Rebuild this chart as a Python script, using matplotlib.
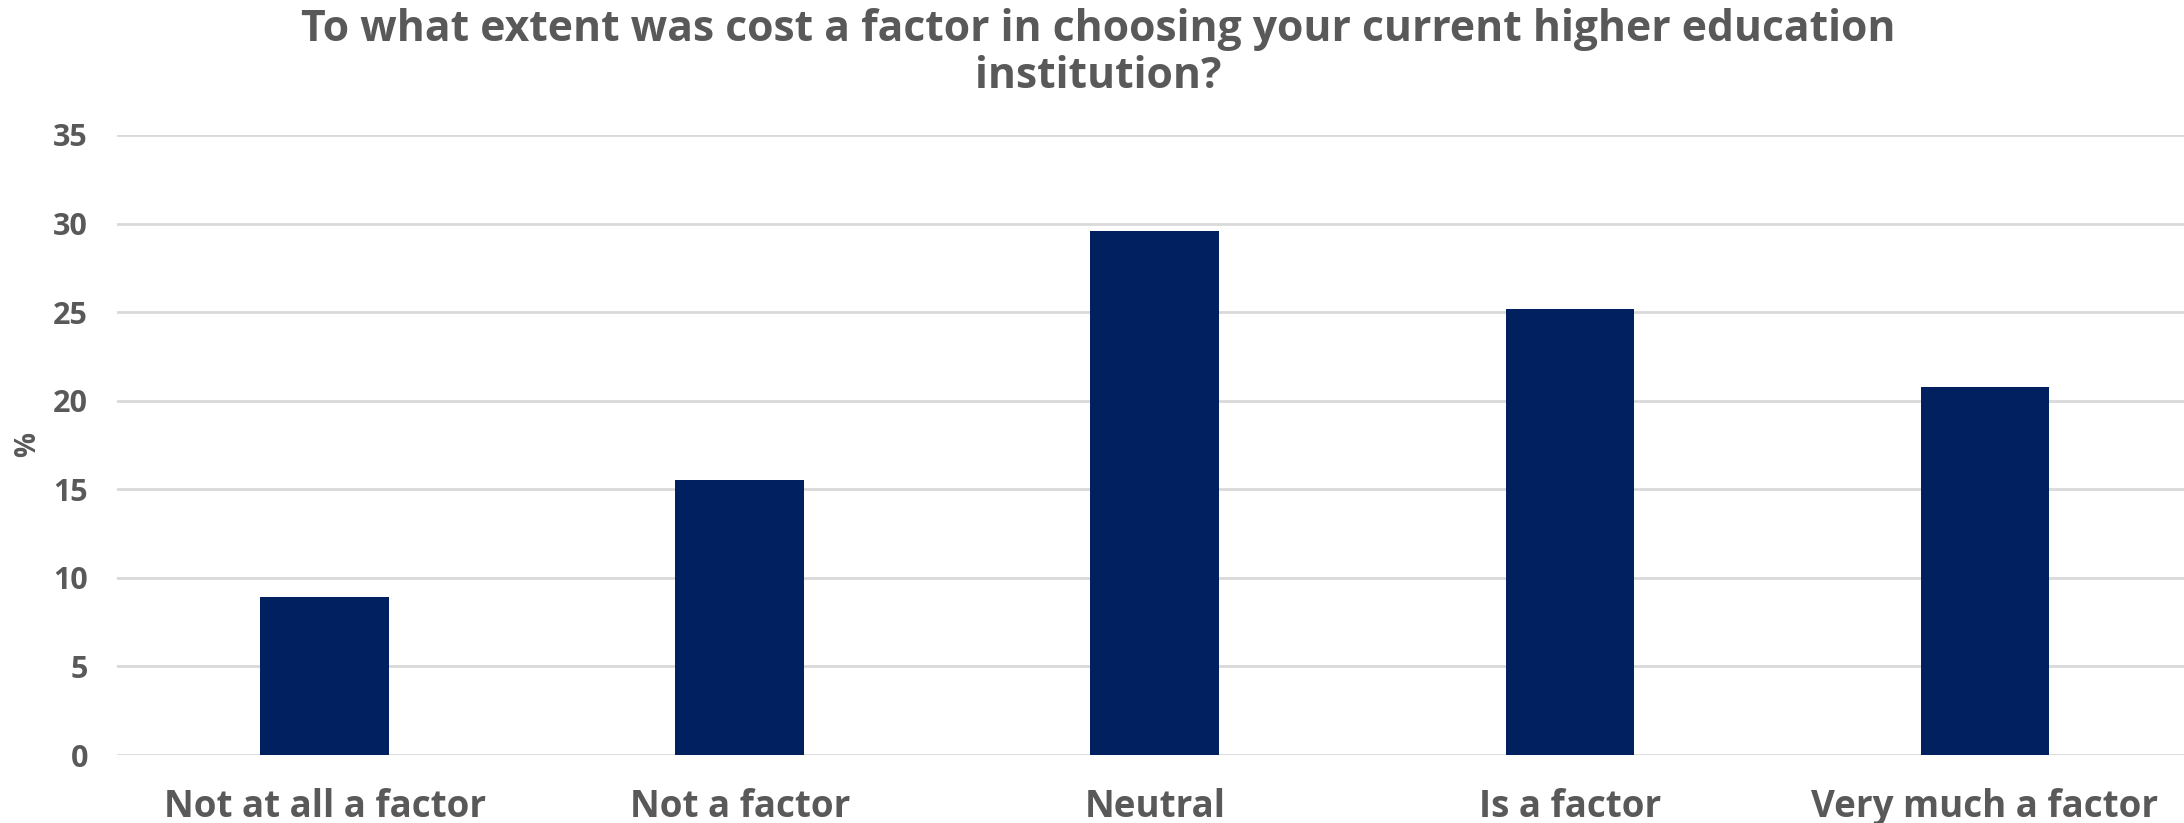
import matplotlib
matplotlib.use("Agg")
import matplotlib.pyplot as plt

categories = ["Not at all a factor", "Not a factor", "Neutral", "Is a factor", "Very much a factor"]
values = [8.9, 15.5, 29.6, 25.2, 20.8]
yticks = [0, 5, 10, 15, 20, 25, 30, 35]
title = "To what extent was cost a factor in choosing your current higher education\ninstitution?"

plt.rcParams['font.family'] = ['Open Sans', 'DejaVu Sans']
gray = "#595959"

fig = plt.figure(figsize=(21.84, 8.23), dpi=100)
ax = fig.add_axes([0.0536, 0.0826, 0.9503, 0.7534])
x = range(len(categories))
ax.bar(x, values, width=0.31, color="#002060", zorder=3)
ax.set_xlim(-0.5, len(categories) - 0.5)
ax.set_ylim(0, 35)
ax.set_yticks(yticks)
ax.set_yticklabels([str(t) for t in yticks], fontsize=22, fontweight='bold', color=gray)
ax.set_xticks(list(x))
ax.set_xticklabels(categories, fontsize=26.5, fontweight='bold', color=gray)
ax.tick_params(axis='y', length=0, pad=21)
ax.tick_params(axis='x', length=0, pad=24)
ax.grid(axis='y', color='#d9d9d9', linewidth=2, zorder=0)
for s in ax.spines.values():
    s.set_visible(False)
ax.set_ylabel("%", fontsize=20, fontweight='bold', color=gray)
ax.yaxis.set_label_coords(-0.036, 0.5)
fig.text(0.503, 0.99, title, ha='center', va='top', fontsize=30.7, fontweight='bold',
         color=gray, linespacing=1.12)
fig.savefig("out.png", dpi=100)
